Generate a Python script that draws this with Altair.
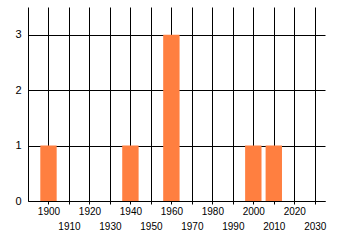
import altair as alt
import pandas as pd

years = [1900, 1940, 1960, 2000, 2010]
counts = [1, 1, 3, 1, 1]
x_ticks = list(range(1900, 2031, 10))
y_ticks = [0, 1, 2, 3]

df = pd.DataFrame({"year": years, "count": counts})

chart = alt.Chart(df).transform_calculate(
    x0="datum.year - 4", x1="datum.year + 4", base="0"
).mark_bar(color="#FF7F40", orient="vertical").encode(
    x=alt.X("x0:Q", scale=alt.Scale(domain=[1890, 2035], nice=False, zero=False, padding=0),
            axis=alt.Axis(values=x_ticks, title=None, grid=True, gridColor="black",
                          gridOpacity=1, domainColor="black", tickColor="black",
                          tickSize=3, labelFont="Liberation Sans", labelFontSize=10,
                          labelColor="#000", labelFlush=False, labelOverlap=False,
                          labelBaseline="top",
                          labelPadding=alt.ConditionalAxisNumber(
                              condition={"test": "datum.value % 20 == 0", "value": 2},
                              value=17),
                          format="d")),
    x2="x1:Q",
    y=alt.Y("count:Q", scale=alt.Scale(domain=[0, 3.5], nice=False, padding=0),
            axis=alt.Axis(values=y_ticks, title=None, grid=True, gridColor="black",
                          gridOpacity=1, domainColor="black", ticks=False,
                          labelFont="Liberation Sans", labelFontSize=11,
                          labelColor="#000", labelPadding=7)),
    y2="base:Q",
).properties(
    width=297, height=194,
    autosize=alt.AutoSizeParams(type="none"),
    padding={"left": 28, "top": 7, "right": 15, "bottom": 44},
).configure_view(stroke=None)

chart.save("out.html", embed_options={"renderer": "svg", "actions": False})
